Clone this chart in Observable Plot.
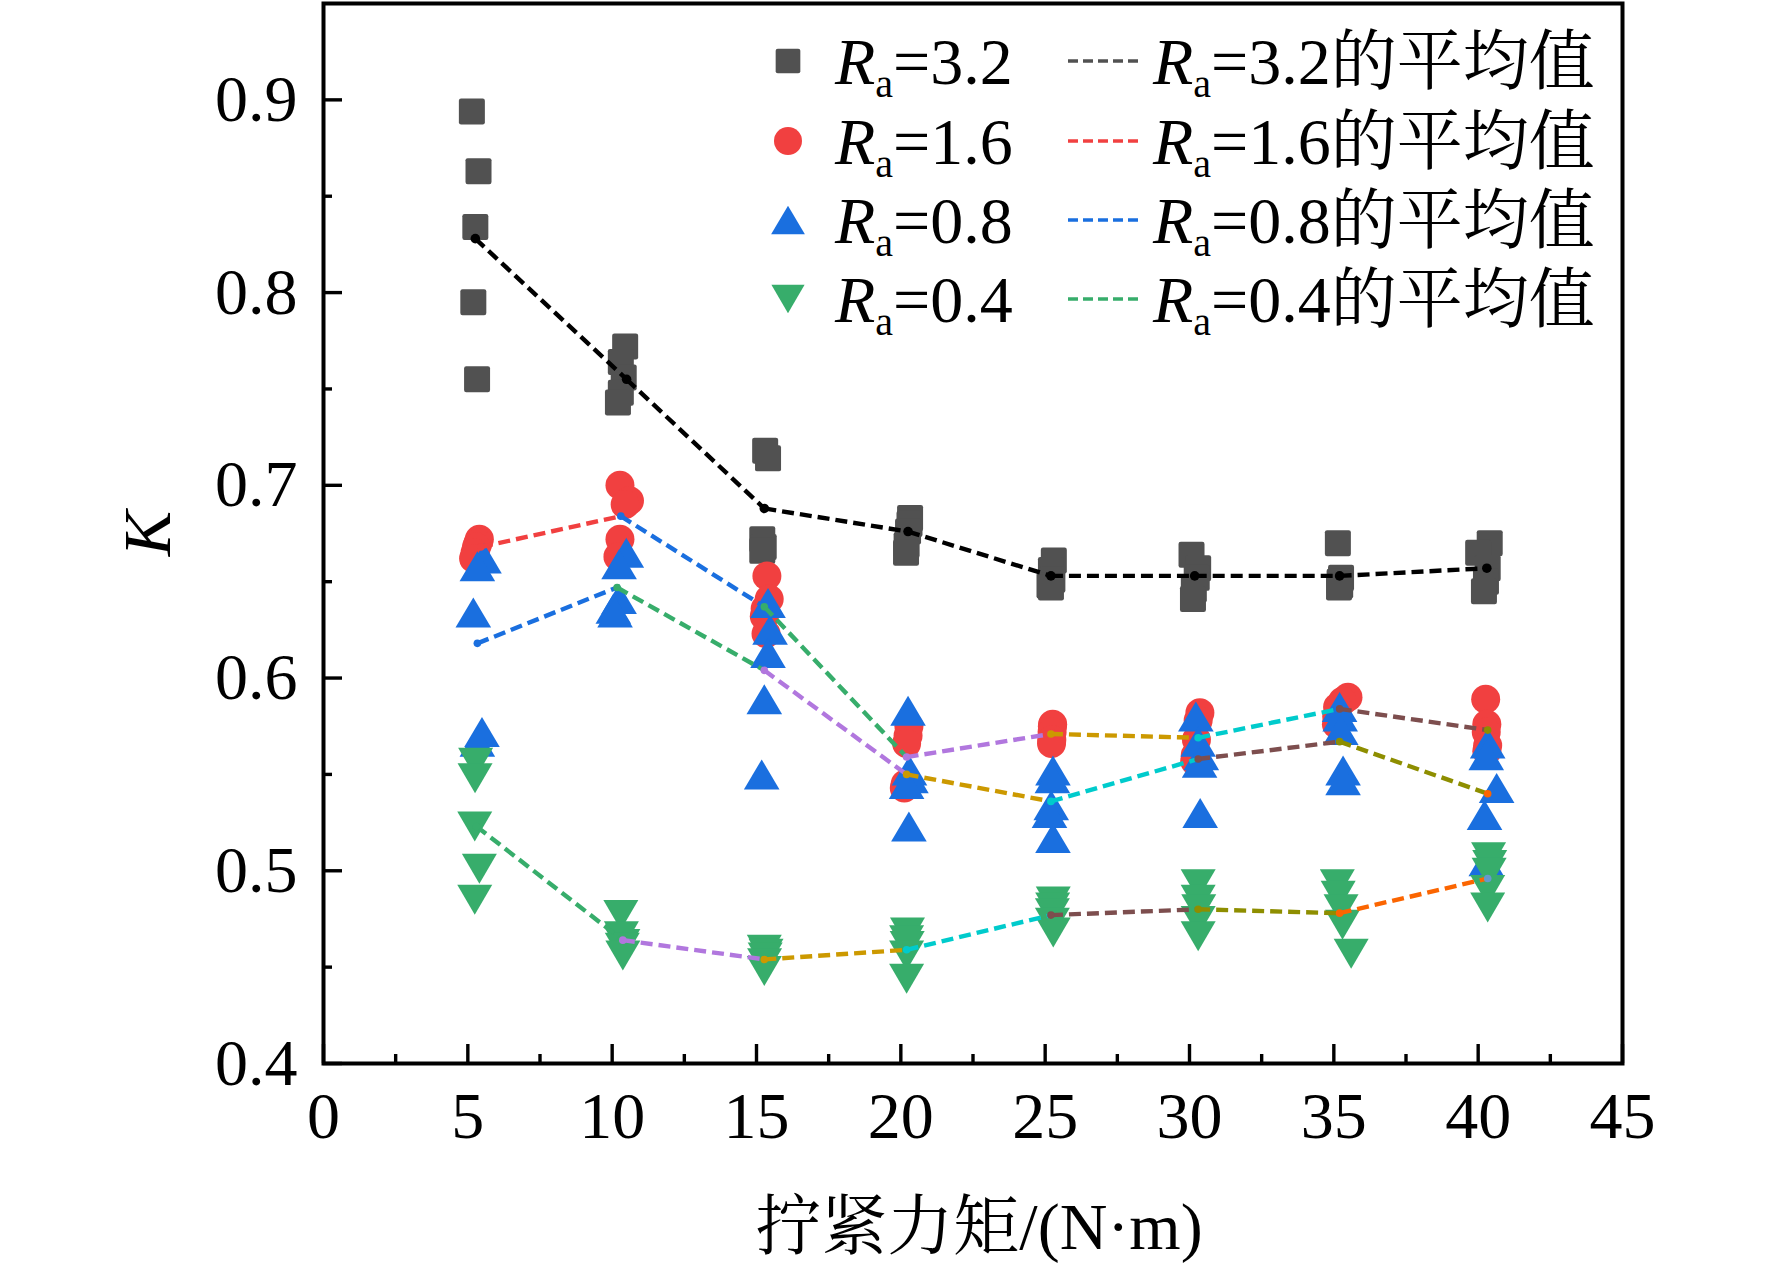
<!DOCTYPE html>
<html>
<head>
<meta charset="utf-8">
<script src="https://cdn.jsdelivr.net/npm/d3@7"></script>
<script src="https://cdn.jsdelivr.net/npm/@observablehq/plot@0.6"></script>
<style>
  body { margin: 0; background: #fff; }
  #chart { width: 1772px; height: 1263px; }
</style>
</head>
<body>
<div id="chart"></div>
<script>
// ---------------- data ----------------
const xMajor = [0, 5, 10, 15, 20, 25, 30, 35, 40, 45];
const xMinor = [2.5, 7.5, 12.5, 17.5, 22.5, 27.5, 32.5, 37.5, 42.5];
const yMajor = [0.4, 0.5, 0.6, 0.7, 0.8, 0.9];
const yMinor = [0.45, 0.55, 0.65, 0.75, 0.85];

const seriesLabels = ["3.2", "1.6", "0.8", "0.4"];

// Ra = 3.2 : tightening torque (with plotting offset) and K values, 5 per torque level
const ra32_T = [[5.14,5.37,5.26,5.19,5.32],[10.45,10.3,10.4,10.3,10.2],[15.3,15.4,15.2,15.25,15.2],[20.32,20.3,20.25,20.2,20.18],[25.3,25.2,25.25,25.15,25.2],[30.07,30.3,30.25,30.15,30.12],[35.14,35.25,35.2,35.22,35.18],[40.4,40.0,40.33,40.27,40.2]];
const ra32_K = [[0.894,0.863,0.834,0.795,0.755],[0.772,0.764,0.756,0.748,0.743],[0.718,0.714,0.672,0.668,0.666],[0.683,0.680,0.676,0.669,0.665],[0.661,0.656,0.651,0.648,0.647],[0.664,0.657,0.652,0.646,0.641],[0.670,0.652,0.650,0.648,0.647],[0.670,0.665,0.657,0.650,0.645]];
const ra32_meanT = [5.26,10.5,15.27,20.25,25.2,30.18,35.2,40.3];
const ra32_mean  = [0.828,0.755,0.688,0.676,0.653,0.653,0.653,0.657];

// Ra = 1.6
const ra16_T = [[5.4,5.35,5.3,5.25,5.2],[10.27,10.6,10.45,10.27,10.2],[15.36,15.44,15.3,15.27,15.33],[20.28,20.25,20.2,20.15,20.12],[25.26,25.25,25.24,25.23,25.22],[30.36,30.3,30.24,30.2,30.18],[35.49,35.3,35.13,35.1,35.09],[40.26,40.3,40.28,40.33,40.3]];
const ra16_K = [[0.672,0.670,0.668,0.665,0.662],[0.700,0.692,0.690,0.672,0.663],[0.653,0.641,0.636,0.632,0.623],[0.575,0.570,0.566,0.545,0.543],[0.576,0.575,0.572,0.568,0.566],[0.582,0.578,0.568,0.560,0.557],[0.590,0.588,0.585,0.580,0.576],[0.589,0.576,0.572,0.565,0.562]];
const ra16_meanT = [5.45,10.3,15.27,20.2,25.2,30.3,35.2,40.33];
const ra16_mean  = [0.668,0.684,0.637,0.559,0.571,0.569,0.584,0.573];

// Ra = 0.8
const ra08_T = [[5.56,5.33,5.19,5.49,5.33],[10.49,10.24,10.24,10.04,10.1],[15.4,15.47,15.4,15.27,15.18],[20.25,20.3,20.35,20.2,20.28],[25.27,25.25,25.21,25.15,25.27],[30.22,30.3,30.41,30.35,30.37],[35.2,35.22,35.24,35.32,35.32],[40.33,40.28,40.64,40.22,40.28]];
const ra08_K = [[0.662,0.658,0.634,0.572,0.567],[0.665,0.659,0.641,0.636,0.634],[0.639,0.625,0.613,0.589,0.550],[0.583,0.552,0.548,0.545,0.523],[0.552,0.548,0.534,0.530,0.517],[0.580,0.567,0.560,0.556,0.530],[0.585,0.580,0.573,0.552,0.547],[0.566,0.560,0.543,0.529,0.505]];
const ra08_meanT = [5.33,10.17,15.27,20.2,25.2,30.3,35.2,40.33];
const ra08_mean  = [0.618,0.647,0.604,0.550,0.536,0.558,0.567,0.540];

// Ra = 0.4
const ra04_T = [[5.27,5.25,5.24,5.4,5.24],[10.3,10.32,10.37,10.35,10.37],[15.27,15.33,15.3,15.28,15.27],[20.23,20.2,20.22,20.2,20.2],[25.28,25.26,25.25,25.25,25.28],[30.3,30.3,30.32,30.3,30.3],[35.12,35.15,35.25,35.3,35.6],[40.36,40.4,40.38,40.33,40.33]];
const ra04_K = [[0.556,0.548,0.523,0.501,0.485],[0.477,0.466,0.462,0.460,0.456],[0.459,0.457,0.455,0.452,0.448],[0.468,0.464,0.461,0.456,0.444],[0.484,0.481,0.478,0.473,0.468],[0.493,0.485,0.480,0.474,0.466],[0.493,0.487,0.480,0.472,0.457],[0.507,0.503,0.499,0.490,0.481]];
const ra04_meanT = [5.3,10.37,15.27,20.2,25.2,30.3,35.2,40.33];
const ra04_mean  = [0.523,0.464,0.454,0.459,0.477,0.480,0.478,0.496];

// ---------------- styles ----------------
const palette = ["#515151","#F14040","#1A6FDF","#37AD6B","#B177DE","#CC9900","#00CBCC","#7D4E4E","#8E8E00","#FB6501","#6699CC","#6FB802"];
const markerFill = ["#515151","#F14040","#1A6FDF","#37AD6B"];
const FONT = '"Liberation Serif", "Times New Roman", "Noto Serif CJK SC", "Noto Sans CJK SC", serif';

const W = 1772, H = 1263, ML = 323, MR = 150, MT = 3, MB = 200;
const unitX = 45 / (W - ML - MR);
const unitY = 0.55 / (H - MT - MB);

const symSquare = { draw(ctx, size) {
  const r = Math.sqrt(size / Math.PI), h = r * 1.3, c = r * 0.22;
  ctx.moveTo(-h + c, -h); ctx.lineTo(h - c, -h); ctx.quadraticCurveTo(h, -h, h, -h + c);
  ctx.lineTo(h, h - c); ctx.quadraticCurveTo(h, h, h - c, h);
  ctx.lineTo(-h + c, h); ctx.quadraticCurveTo(-h, h, -h, h - c);
  ctx.lineTo(-h, -h + c); ctx.quadraticCurveTo(-h, -h, -h + c, -h); ctx.closePath();
}};
const symTriUp = { draw(ctx, size) {
  const r = Math.sqrt(size / Math.PI), hw = r * 1.78, hh = r * 1.5;
  ctx.moveTo(0, -hh); ctx.lineTo(hw, hh); ctx.lineTo(-hw, hh); ctx.closePath();
}};
const symTriDown = { draw(ctx, size) {
  const r = Math.sqrt(size / Math.PI), hw = r * 1.75, hh = r * 1.5;
  ctx.moveTo(0, hh); ctx.lineTo(hw, -hh); ctx.lineTo(-hw, -hh); ctx.closePath();
}};

const pts = (T, K) => T.flatMap((row, i) => row.map((t, j) => ({t, k: K[i][j]})));

function meanMarks(meanT, mean, s) {
  const marks = [];
  for (let j = 0; j < mean.length - 1; j++) {
    const col = s === 0 ? "#000" : palette[s + j];
    marks.push(Plot.line([{t: meanT[j], k: mean[j]}, {t: meanT[j + 1], k: mean[j + 1]}],
      {x: "t", y: "k", stroke: col, strokeWidth: 4.4, strokeDasharray: "12,6", strokeLinecap: "butt", strokeLinejoin: "miter"}));
  }
  for (let j = 0; j < mean.length; j++) {
    const col = s === 0 ? "#000" : palette[s + j];
    marks.push(Plot.dot([{t: meanT[j], k: mean[j]}],
      {x: "t", y: "k", r: s === 0 ? 4.8 : 3.8, fill: col, stroke: "none"}));
  }
  return marks;
}

const chart = Plot.plot({
  width: W, height: H,
  marginLeft: ML, marginRight: MR, marginTop: MT, marginBottom: MB,
  x: {domain: [0, 45]},
  y: {domain: [0.4, 0.95]},
  style: {fontFamily: FONT, fontSize: "66px", background: "#fff", color: "#000"},
  marks: [
    Plot.dot(pts(ra32_T, ra32_K), {x: "t", y: "k", r: 10, symbol: symSquare, fill: markerFill[0], stroke: "none"}),
    Plot.dot(pts(ra16_T, ra16_K), {x: "t", y: "k", r: 14.5, symbol: "circle", fill: markerFill[1], stroke: "none"}),
    Plot.dot(pts(ra08_T, ra08_K), {x: "t", y: "k", r: 10, symbol: symTriUp, fill: markerFill[2], stroke: "none"}),
    Plot.dot(pts(ra04_T, ra04_K), {x: "t", y: "k", r: 10, symbol: symTriDown, fill: markerFill[3], stroke: "none"}),
    ...meanMarks(ra32_meanT, ra32_mean, 0),
    ...meanMarks(ra16_meanT, ra16_mean, 1),
    ...meanMarks(ra08_meanT, ra08_mean, 2),
    ...meanMarks(ra04_meanT, ra04_mean, 3),
    // inward ticks
    Plot.ruleY(yMajor, {x1: 0, x2: 19 * unitX, stroke: "#000", strokeWidth: 3.4}),
    Plot.ruleY(yMinor, {x1: 0, x2: 9 * unitX, stroke: "#000", strokeWidth: 3.4}),
    Plot.ruleX(xMajor, {y1: 0.4, y2: 0.4 + 19 * unitY, stroke: "#000", strokeWidth: 3.4}),
    Plot.ruleX(xMinor, {y1: 0.4, y2: 0.4 + 9 * unitY, stroke: "#000", strokeWidth: 3.4}),
    Plot.frame({stroke: "#000", strokeWidth: 4}),
    Plot.axisY({ticks: yMajor, tickFormat: d3.format(".1f"), tickSize: 0, tickPadding: 26, label: null, fontSize: 66}),
    Plot.axisX({ticks: xMajor, tickFormat: d3.format("d"), tickSize: 0, tickPadding: 28, label: null, fontSize: 66}),
    Plot.text(["K"], {frameAnchor: "left", dx: -175, rotate: -90, text: d => d, fontStyle: "italic",
      fontSize: 68, textAnchor: "middle", lineAnchor: "middle", fill: "#000"}),
    Plot.text(["拧紧力矩/(N·m)"], {frameAnchor: "bottom", dx: 6, dy: 164, text: d => d,
      fontSize: 66, textAnchor: "middle", lineAnchor: "middle", fill: "#000"})
  ]
});

document.getElementById("chart").appendChild(chart);

// ---------------- legend (inside plot, top-right) ----------------
const svg = d3.select(chart.tagName.toLowerCase() === "svg" ? chart : chart.querySelector("svg"));
const legend = svg.append("g").attr("font-family", FONT).attr("fill", "#000").attr("text-anchor", "start");
const rowY = [61, 141, 220, 299];
const legendSyms = [
  d3.symbol(symSquare, Math.PI * 90)(),
  d3.symbol(d3.symbolCircle, Math.PI * 14 * 14)(),
  d3.symbol(symTriUp, Math.PI * 90)(),
  d3.symbol(symTriDown, Math.PI * 90)()
];
seriesLabels.forEach((lab, i) => {
  const y = rowY[i];
  legend.append("path").attr("d", legendSyms[i]).attr("transform", `translate(788,${y})`).attr("fill", markerFill[i]);
  const t1 = legend.append("text").attr("x", 835).attr("y", y + 23).attr("font-size", 66).attr("text-anchor", "start");
  t1.append("tspan").attr("font-style", "italic").text("R");
  t1.append("tspan").attr("font-size", 40).attr("dy", 13).text("a");
  t1.append("tspan").attr("dy", -13).text("=" + lab);
  legend.append("line").attr("x1", 1068).attr("x2", 1142).attr("y1", y).attr("y2", y)
    .attr("stroke", markerFill[i]).attr("stroke-width", 3.6).attr("stroke-dasharray", "10,5");
  const t2 = legend.append("text").attr("x", 1153).attr("y", y + 23).attr("font-size", 66).attr("text-anchor", "start");
  t2.append("tspan").attr("font-style", "italic").text("R");
  t2.append("tspan").attr("font-size", 40).attr("dy", 13).text("a");
  t2.append("tspan").attr("dy", -13).text("=" + lab + "的平均值");
});
</script>
</body>
</html>
